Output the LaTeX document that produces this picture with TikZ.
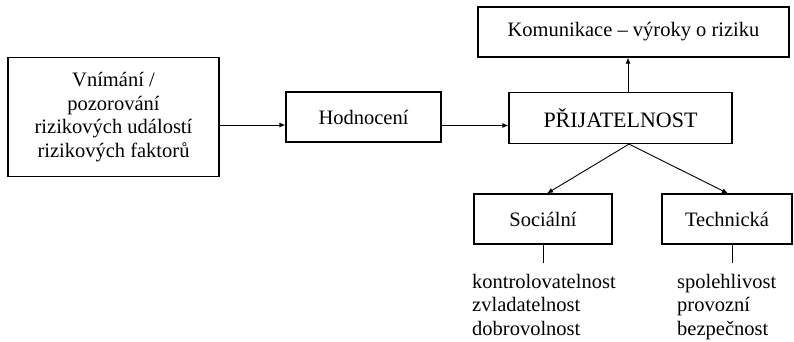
\documentclass[tikz,border=0pt]{standalone}
\usepackage{fontspec}
\setmainfont{Liberation Serif}
\usepackage{tikz}
\usetikzlibrary{arrows.meta, positioning, calc}

\begin{document}
\begin{tikzpicture}[
    x=1pt, y=-1pt,
    box/.style={rectangle, draw, line width=1.2pt, fill=white, align=center, inner sep=0pt, minimum height=50pt, font=\fontsize{20.5}{23.5}\selectfont},
    liste/.style={align=left, inner sep=0pt, anchor=north west, font=\fontsize{20.5}{23.5}\selectfont},
    arrow/.style={-{Latex[length=6pt, width=5pt]}, line width=0.9pt},
    stem/.style={line width=0.9pt}
]
\useasboundingbox (0,0) rectangle (794,341);

% Perception
\node[box, minimum width=211pt, minimum height=119pt] (percept) at (113.5,117) {Vnímání /\\pozorování\\rizikových událostí\\rizikových faktorů};

% Evaluation
\node[box, minimum width=155pt] (hodnoc) at (363.5,117) {Hodnocení};

% Acceptability
\node[box, minimum width=223pt, minimum height=51pt, font=\fontsize{22}{24}\selectfont] (prijat) at (620.5,118) {PŘIJATELNOST};

% Communication
\node[box, minimum width=311pt] (komun) at (633.5,32) {Komunikace – výroky o riziku};

% Branches
\node[box, minimum width=138pt] (social) at (543,219) {Sociální};
\node[box, minimum width=130pt] (tech) at (727,219) {Technická};

% Arrows
\draw[arrow] ([yshift=-8pt]percept.east) -- ([yshift=-8pt]hodnoc.west);
\draw[arrow] ([yshift=-8.5pt]hodnoc.east) -- ([yshift=-7.5pt]prijat.west);
\draw[arrow] ([xshift=7.5pt]prijat.north) -- ([xshift=7.5pt]prijat.north |- komun.south);
\draw[arrow] ([xshift=8.5pt]prijat.south) -- ([xshift=4pt]social.north);
\draw[arrow] ([xshift=8.5pt]prijat.south) -- ([xshift=1pt]tech.north);

% Lists
\coordinate (socend) at ([yshift=-18pt]social.south);
\coordinate (techend) at ([xshift=5pt, yshift=-18pt]tech.south);
\draw[stem] (social.south) -- (socend);
\draw[stem] ([xshift=5pt]tech.south) -- (techend);
\node[liste] (soclist) at (472,274) {kontrolovatelnost\\zvladatelnost\\dobrovolnost};
\node[liste] (techlist) at (677,274) {spolehlivost\\provozní\\bezpečnost};

\end{tikzpicture}
\end{document}
